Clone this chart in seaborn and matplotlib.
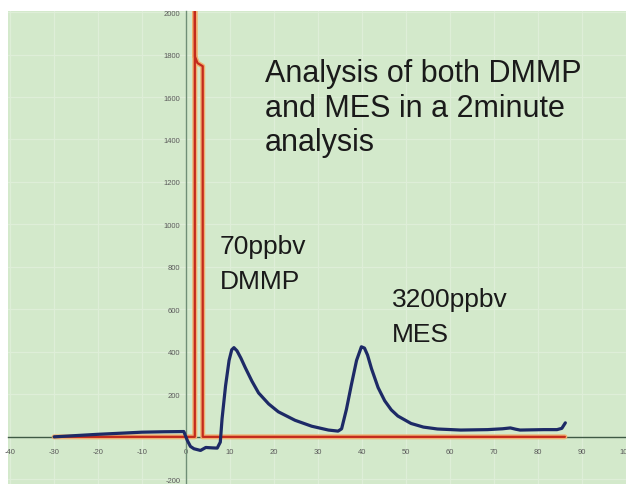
import numpy as np
import pandas as pd
import matplotlib
matplotlib.use("Agg")
import matplotlib.pyplot as plt
import seaborn as sns

# red trace (pulse)
red_x = [-30, 2.0, 2.0, 2.05, 2.6, 3.8, 3.8, 86.2]
red_y = [0, 0, 2100, 1790, 1760, 1745, 0, 0]

# blue trace (signal)
blue_x = [-30, -25, -20, -15, -10, -5, -0.5, 0.3, 1.0, 1.8, 3.3, 4.5, 6.0, 7.1, 7.8,
          8.2, 9.0, 9.8, 10.4, 10.9, 11.6, 12.5, 13.5, 15.0, 16.5, 18.8, 21.0, 24.8,
          28.6, 32.4, 34.6, 35.4, 36.5, 37.6, 38.8, 39.9, 40.6, 41.3, 42.2, 43.7,
          45.2, 46.7, 48.2, 51.2, 54.0, 57.2, 62.5, 68.6, 72.0, 73.8, 75.0, 76.0,
          81.4, 84.4, 85.5, 86.3]
blue_y = [0, 6, 12, 17, 22, 24, 25, -17, -45, -56, -64, -50, -52, -53, -25,
          85, 241, 360, 410, 420, 405, 370, 325, 262, 207, 155, 118, 78,
          50, 32, 27, 38, 130, 243, 360, 424, 418, 385, 321, 232,
          170, 127, 98, 63, 46, 37, 32, 34, 38, 42, 36, 32,
          34, 34, 40, 66]

x_ticks = list(range(-40, 101, 10))
y_ticks = list(range(-200, 2001, 200))

sns.set_style("whitegrid", {"axes.facecolor": "#d3e9cb", "grid.color": "#deeed8",
                            "axes.edgecolor": "#3f5a45"})
plt.rcParams["font.family"] = ["Liberation Sans", "DejaVu Sans"]

fig = plt.figure(figsize=(6.26, 4.85), dpi=100)
ax = fig.add_axes([8 / 626, 0, 618 / 626, 473 / 485])

red_df = pd.DataFrame({"x": red_x, "y": red_y})
blue_df = pd.DataFrame({"x": blue_x, "y": blue_y})

sns.lineplot(data=red_df, x="x", y="y", sort=False, estimator=None,
             color="#f0b070", lw=3.6, ax=ax, zorder=3)
sns.lineplot(data=red_df, x="x", y="y", sort=False, estimator=None,
             color="#c42a1c", lw=1.6, ax=ax, zorder=4)
sns.lineplot(data=blue_df, x="x", y="y", sort=False, estimator=None,
             color="#1d2a66", lw=2.3, ax=ax, zorder=5)

ax.set_xlim(-40.5, 100.1)
ax.set_ylim(-222, 2005)
ax.set_xticks(x_ticks)
ax.set_yticks(y_ticks)
ax.set_xticklabels([str(t) for t in x_ticks])
ax.set_yticklabels(["" if t == 0 else str(t) for t in y_ticks])
ax.grid(True, lw=0.9)
ax.set_xlabel("")
ax.set_ylabel("")

for side in ["top", "right"]:
    ax.spines[side].set_visible(False)
ax.spines["left"].set_position(("data", 0))
ax.spines["bottom"].set_position(("data", 0))
ax.spines["left"].set_color("#6f8f76")
ax.spines["bottom"].set_color("#3f5a45")
ax.spines["left"].set_linewidth(1.0)
ax.spines["bottom"].set_linewidth(1.0)
ax.tick_params(axis="both", labelsize=5.5, labelcolor="#5a5a5a", color="#3f5a45",
               direction="inout", length=4, width=0.8)
ax.tick_params(axis="x", pad=6)
ax.tick_params(axis="y", pad=2)

ax.text(18.0, 1675, "Analysis of both DMMP", fontsize=22, color="#1a1a1a", va="baseline", zorder=6)
ax.text(18.0, 1511, "and MES in a 2minute", fontsize=22, color="#1a1a1a", va="baseline", zorder=6)
ax.text(18.0, 1351, "analysis", fontsize=22, color="#1a1a1a", va="baseline", zorder=6)
ax.text(7.7, 866, "70ppbv", fontsize=19, color="#1a1a1a", va="baseline", zorder=6)
ax.text(7.7, 701, "DMMP", fontsize=19, color="#1a1a1a", va="baseline", zorder=6)
ax.text(46.9, 616, "3200ppbv", fontsize=19, color="#1a1a1a", va="baseline", zorder=6)
ax.text(46.9, 452, "MES", fontsize=19, color="#1a1a1a", va="baseline", zorder=6)

fig.savefig("out.png", dpi=100)
